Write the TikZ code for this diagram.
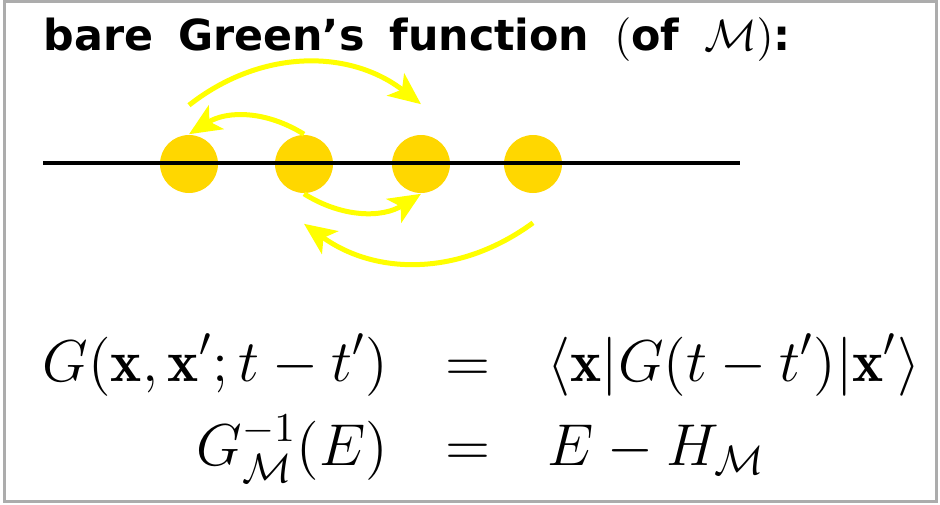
\documentclass[tikz,border=0pt]{standalone}
\usepackage{amsmath,amssymb}
\usepackage{graphicx}
\usepackage{fontspec}
\newfontfamily\headfont{DejaVu Sans}
\usepackage{tikz}
\usetikzlibrary{arrows.meta, positioning}
\definecolor{sitegold}{RGB}{255,215,0}
\definecolor{hopyellow}{RGB}{255,255,0}
\definecolor{framegray}{RGB}{172,172,172}
\newcommand{\widespaces}{\spaceskip=6.2pt plus 1pt\relax}

\begin{document}
\begin{tikzpicture}[
  x=0.25pt, y=-0.25pt,
  site/.style={circle, fill=sitegold, minimum size=14.5pt, inner sep=0pt},
  hop/.style={-{Stealth[length=8pt, width=7pt, inset=2pt]}, line width=1.25pt, draw=hopyellow},
  chain/.style={line width=0.9pt, draw=black},
  heading/.style={anchor=base west, inner sep=0pt, font=\fontsize{10.7}{13}\selectfont\headfont\bfseries},
  eqs/.style={anchor=west, inner sep=0pt, font=\fontsize{14.4}{17.5}\selectfont}
]
\useasboundingbox (0,0) rectangle (940,504);
\draw[framegray, line width=0.75pt] (4.5,1.5) rectangle (936,501);

\node[heading] (title) at (43,50) {\widespaces bare Green’s function $($of $\mathcal{M})$:};

% sites on the chain
\node[site] (s1) at (189,164) {};
\node[site] (s2) at (304,164) {};
\node[site] (s3) at (421,164) {};
\node[site] (s4) at (533,164) {};
\coordinate (chainL) at (43,163);
\coordinate (chainR) at (740,163);
\draw[chain] (chainL) -- (chainR);

% hopping arrows
\draw[hop] ([yshift=7.25pt]s1.north) to[bend left=38] ([yshift=7.5pt]s3.north);
\draw[hop] (s2.north) to[bend right=32] (s1.north);
\draw[hop] (s2.south) to[bend right=32] (s3.south);
\draw[hop] ([yshift=-7.25pt]s4.south) to[bend left=36] ([yshift=-7.5pt]s2.south);

\node[eqs] (green) at (42,409) {\scalebox{1.025}{$\begin{array}{@{}r@{\hspace{14pt}}c@{\hspace{14pt}}l@{}}
  \displaystyle G(\mathbf{x},\mathbf{x}';t-t') & = & \displaystyle \langle\mathbf{x}|G(t-t')|\mathbf{x}'\rangle \\[3pt]
  \displaystyle G^{-1}_{\mathcal{M}}(E) & = & \displaystyle E-H_{\mathcal{M}}
\end{array}$}};
\end{tikzpicture}
\end{document}
